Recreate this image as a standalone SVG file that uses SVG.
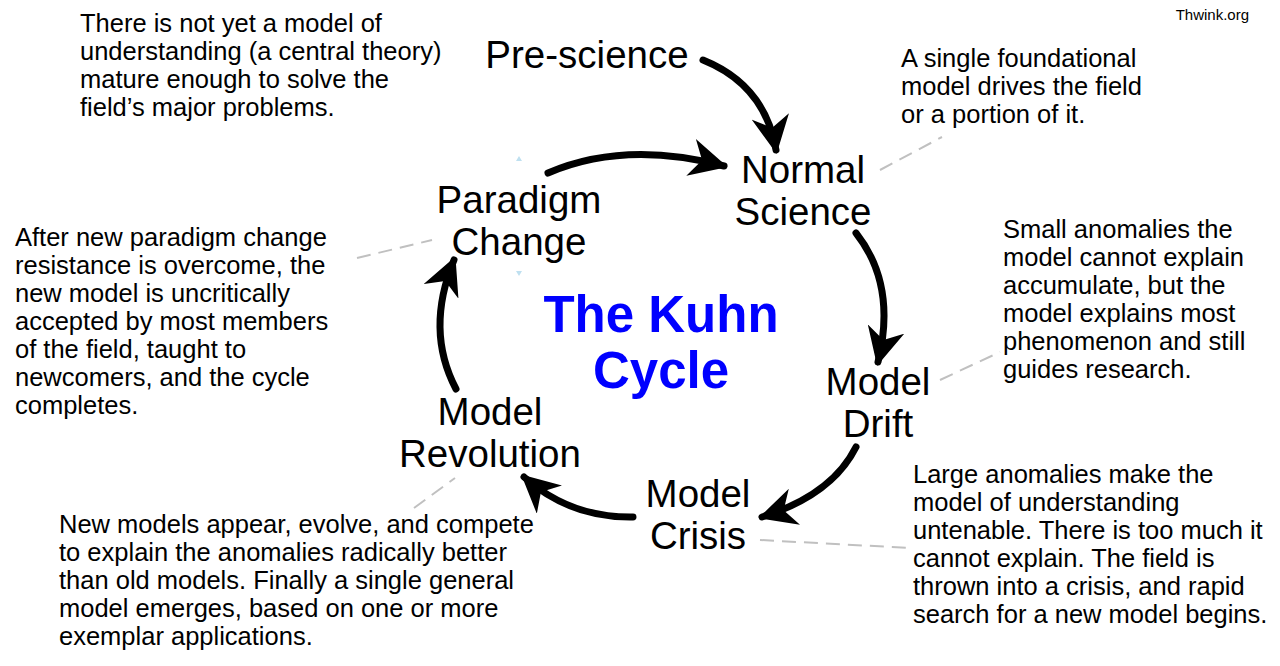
<svg xmlns="http://www.w3.org/2000/svg" width="1280" height="666" viewBox="0 0 1280 666">
<style>
.n{font-family:"Liberation Sans",Arial,sans-serif;font-size:38.5px;fill:#000;text-anchor:middle}
.a{font-family:"Liberation Sans",Arial,sans-serif;font-size:25.5px;fill:#000}
.c{fill:none;stroke:#000;stroke-width:7;stroke-linecap:round}
.d{fill:none;stroke:#c0c0c0;stroke-width:2;stroke-dasharray:14,8}
</style>
<defs>
<marker id="ah" viewBox="0 0 10 10" refX="9" refY="5" markerWidth="5.4" markerHeight="5.4" orient="auto" markerUnits="strokeWidth">
<path d="M0,0 L10,5 L0,10 L3,5 Z" fill="#000"/>
</marker>
</defs>
<rect width="1280" height="666" fill="#fff"/>
<text x="1249" y="20" font-family="Liberation Sans,Arial,sans-serif" font-size="15" text-anchor="end">Thwink.org</text>
<g id="connectors">
<path class="c" marker-end="url(#ah)" d="M703,60 Q765,85 776,150"/>
<path class="c" marker-end="url(#ah)" d="M548,173 Q625,140 724,166"/>
<path class="c" marker-end="url(#ah)" d="M856,233 Q897,285 878,362"/>
<path class="c" marker-end="url(#ah)" d="M856,447 Q832,495 762,517"/>
<path class="c" marker-end="url(#ah)" d="M633,517 Q570,518 524,477"/>
<path class="c" marker-end="url(#ah)" d="M456,389 Q425,330 454,260"/>
<path class="d" d="M880,170 L942,137"/>
<path class="d" d="M357,258 L432,240"/>
<path class="d" d="M940,380 L1000,352"/>
<path class="d" d="M760,540 L910,548"/>
<path class="d" d="M414,508 L455,478"/>
</g>
<path d="M516,161 L519,156 L522,161 Z M516,271 L519,276 L522,271 Z" fill="#bfe0f0"/>
<g id="pre-science"><text class="n" x="587" y="68">Pre-science</text></g>
<g id="normal-science"><text class="n" x="803" y="183">Normal</text><text class="n" x="803" y="225">Science</text></g>
<g id="model-drift"><text class="n" x="878" y="395">Model</text><text class="n" x="878" y="437">Drift</text></g>
<g id="model-crisis"><text class="n" x="698" y="507">Model</text><text class="n" x="698" y="549">Crisis</text></g>
<g id="model-revolution"><text class="n" x="490" y="425">Model</text><text class="n" x="490" y="467">Revolution</text></g>
<g id="paradigm-change"><text class="n" x="519" y="213">Paradigm</text><text class="n" x="519" y="255">Change</text></g>
<g id="title"><text x="661" y="332" font-family="Liberation Sans,Arial,sans-serif" font-size="51" font-weight="bold" fill="#0000ff" text-anchor="middle">The Kuhn</text><text x="661" y="388" font-family="Liberation Sans,Arial,sans-serif" font-size="51" font-weight="bold" fill="#0000ff" text-anchor="middle">Cycle</text></g>
<g id="note-pre"><text class="a" x="80" y="32">There is not yet a model of</text><text class="a" x="80" y="60">understanding (a central theory)</text><text class="a" x="80" y="88">mature enough to solve the</text><text class="a" x="80" y="116">field’s major problems.</text></g>
<g id="note-normal"><text class="a" x="901" y="67">A single foundational</text><text class="a" x="901" y="95">model drives the field</text><text class="a" x="901" y="123">or a portion of it.</text></g>
<g id="note-drift"><text class="a" x="1003" y="238">Small anomalies the</text><text class="a" x="1003" y="266">model cannot explain</text><text class="a" x="1003" y="294">accumulate, but the</text><text class="a" x="1003" y="322">model explains most</text><text class="a" x="1003" y="350">phenomenon and still</text><text class="a" x="1003" y="378">guides research.</text></g>
<g id="note-crisis"><text class="a" x="913" y="483">Large anomalies make the</text><text class="a" x="913" y="511">model of understanding</text><text class="a" x="913" y="539">untenable. There is too much it</text><text class="a" x="913" y="567">cannot explain. The field is</text><text class="a" x="913" y="595">thrown into a crisis, and rapid</text><text class="a" x="913" y="623">search for a new model begins.</text></g>
<g id="note-revolution"><text class="a" x="59" y="533">New models appear, evolve, and compete</text><text class="a" x="59" y="561">to explain the anomalies radically better</text><text class="a" x="59" y="589">than old models. Finally a single general</text><text class="a" x="59" y="617">model emerges, based on one or more</text><text class="a" x="59" y="645">exemplar applications.</text></g>
<g id="note-paradigm"><text class="a" x="15" y="246">After new paradigm change</text><text class="a" x="15" y="274">resistance is overcome, the</text><text class="a" x="15" y="302">new model is uncritically</text><text class="a" x="15" y="330">accepted by most members</text><text class="a" x="15" y="358">of the field, taught to</text><text class="a" x="15" y="386">newcomers, and the cycle</text><text class="a" x="15" y="414">completes.</text></g>
</svg>
